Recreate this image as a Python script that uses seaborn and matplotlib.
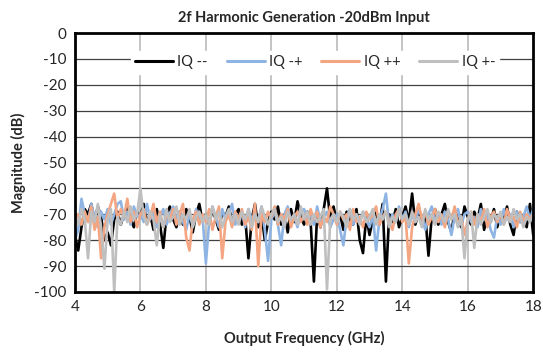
import numpy as np
import pandas as pd
import matplotlib
matplotlib.use("Agg")
import matplotlib.pyplot as plt
import seaborn as sns

# sweep frequencies (GHz), 0.1 GHz step
freq = np.round(np.linspace(4, 18, 141), 2)

iq_mm = [-78, -84, -75, -68, -70, -66, -73, -67, -71, -80,
         -77, -82, -72, -69, -74, -70, -67, -72, -75, -69,
         -71, -66, -73, -70, -76, -68, -74, -83, -70, -67,
         -72, -75, -69, -74, -68, -71, -77, -70, -66, -73,
         -70, -74, -68, -72, -76, -69, -71, -67, -73, -70,
         -68, -74, -71, -87, -72, -66, -75, -70, -80, -73,
         -69, -72, -67, -74, -70, -77, -68, -73, -65, -71,
         -74, -69, -73, -96, -70, -75, -68, -60, -72, -67,
         -73, -70, -76, -69, -72, -74, -68, -80, -85, -71,
         -78, -72, -69, -74, -66, -96, -70, -73, -68, -75,
         -71, -67, -73, -62, -74, -69, -72, -70, -86, -71,
         -68, -74, -70, -66, -73, -77, -69, -72, -75, -67,
         -71, -74, -69, -72, -66, -76, -70, -73, -68, -75,
         -70, -72, -67, -74, -78, -69, -73, -71, -75, -66,
         -78]

iq_mp = [-80, -76, -64, -70, -73, -66, -71, -75, -69, -72,
         -68, -74, -70, -66, -65, -72, -69, -74, -67, -71,
         -70, -73, -66, -72, -69, -75, -71, -68, -74, -70,
         -67, -72, -69, -73, -76, -70, -74, -68, -72, -71,
         -89, -73, -67, -71, -75, -68, -72, -70, -66, -74,
         -71, -69, -75, -68, -72, -70, -73, -67, -76, -88,
         -72, -69, -74, -82, -70, -67, -73, -71, -75, -69,
         -68, -72, -70, -74, -67, -73, -71, -69, -75, -72,
         -70, -76, -82, -71, -68, -74, -70, -73, -69, -72,
         -75, -70, -84, -72, -68, -62, -74, -70, -73, -67,
         -72, -69, -75, -70, -73, -68, -71, -76, -70, -67,
         -73, -70, -74, -69, -72, -78, -71, -68, -74, -70,
         -69, -73, -71, -75, -68, -72, -70, -76, -79, -71,
         -74, -68, -72, -70, -75, -69, -73, -71, -67, -72,
         -68]

iq_pp = [-72, -70, -74, -69, -73, -67, -76, -71, -87, -75,
         -70, -66, -62, -72, -68, -71, -64, -73, -69, -75,
         -70, -68, -74, -71, -66, -73, -69, -75, -70, -72,
         -68, -74, -70, -66, -79, -84, -72, -69, -74, -70,
         -73, -68, -76, -71, -67, -87, -73, -70, -75, -69,
         -72, -68, -74, -71, -76, -66, -90, -70, -73, -69,
         -71, -67, -74, -70, -72, -68, -75, -71, -69, -73,
         -70, -74, -68, -72, -69, -75, -71, -73, -67, -70,
         -74, -69, -72, -70, -76, -68, -73, -71, -75, -69,
         -72, -70, -67, -74, -71, -69, -73, -76, -70, -68,
         -73, -71, -89, -75, -70, -66, -72, -69, -74, -71,
         -68, -73, -70, -75, -69, -72, -67, -74, -71, -78,
         -72, -69, -74, -70, -73, -68, -75, -71, -69, -73,
         -70, -74, -68, -72, -71, -75, -69, -73, -70, -72,
         -70]

iq_pm = [-70, -74, -68, -72, -87, -69, -73, -66, -75, -91,
         -72, -68, -100, -71, -74, -69, -73, -67, -72, -70,
         -60, -71, -74, -69, -72, -82, -70, -75, -68, -73,
         -71, -67, -74, -70, -72, -68, -75, -71, -69, -73,
         -70, -74, -67, -72, -69, -75, -71, -68, -73, -70,
         -74, -69, -72, -68, -75, -70, -73, -67, -71, -74,
         -70, -68, -73, -71, -75, -69, -72, -70, -74, -67,
         -72, -69, -74, -70, -73, -71, -68, -99, -72, -70,
         -73, -69, -71, -75, -68, -72, -70, -74, -69, -73,
         -71, -68, -74, -70, -72, -69, -75, -71, -73, -68,
         -72, -70, -74, -69, -73, -71, -75, -68, -72, -70,
         -74, -69, -71, -73, -68, -72, -70, -75, -71, -87,
         -72, -69, -83, -70, -74, -71, -68, -73, -70, -72,
         -69, -74, -71, -73, -68, -72, -70, -75, -71, -73,
         -70]

series_names = ["IQ --", "IQ -+", "IQ ++", "IQ +-"]
colors = ["#000000", "#8EB4E3", "#F4A582", "#BFBFBF"]

df = pd.concat([
    pd.DataFrame({"freq": freq, "mag": vals, "series": name})
    for name, vals in zip(series_names, [iq_mm, iq_mp, iq_pp, iq_pm])
])

sns.set_style("white")
plt.rcParams["font.family"] = ["Lato", "DejaVu Sans"]
plt.rcParams["axes.unicode_minus"] = False

fig = plt.figure(figsize=(5.43, 3.56), dpi=100)
ax = fig.add_axes([0.138, 0.180, 0.844, 0.727])

sns.lineplot(data=df, x="freq", y="mag", hue="series", hue_order=series_names,
             palette=colors, linewidth=1.9, ax=ax, estimator=None, sort=False)

ax.set_xlim(4, 18)
ax.set_ylim(-100, 0)
ax.set_xticks(np.arange(4, 19, 2))
ax.set_yticks(np.arange(-100, 1, 10))
ax.tick_params(length=0, labelsize=11, pad=6)

# gridlines: gray verticals, dark horizontals
for xv in np.arange(6, 18, 2):
    ax.axvline(xv, color="#BFBFBF", linewidth=1.3, zorder=0)
for yv in np.arange(-90, 0, 10):
    ax.axhline(yv, color="#404040", linewidth=0.9, zorder=0)

for sp in ax.spines.values():
    sp.set_color("black")
    sp.set_linewidth(2)

ax.set_title("2f Harmonic Generation -20dBm Input", fontsize=10.5, fontweight="bold", pad=8)
ax.set_xlabel("Output Frequency (GHz)", fontsize=10.5, fontweight="bold", labelpad=12)
ax.set_ylabel("Magnitude (dB)", fontsize=10.5, fontweight="bold", labelpad=6)

leg = ax.legend(loc="upper center", bbox_to_anchor=(0.524, 0.96), ncol=4, frameon=True,
                fontsize=10.5, handlelength=2.6, columnspacing=1.3, handletextpad=0.3,
                borderpad=0.3, fancybox=False)
leg.get_frame().set_facecolor("white")
leg.get_frame().set_edgecolor("white")
leg.get_frame().set_alpha(1)
for line in leg.get_lines():
    line.set_linewidth(2.2)

fig.savefig("out.png", dpi=100)
